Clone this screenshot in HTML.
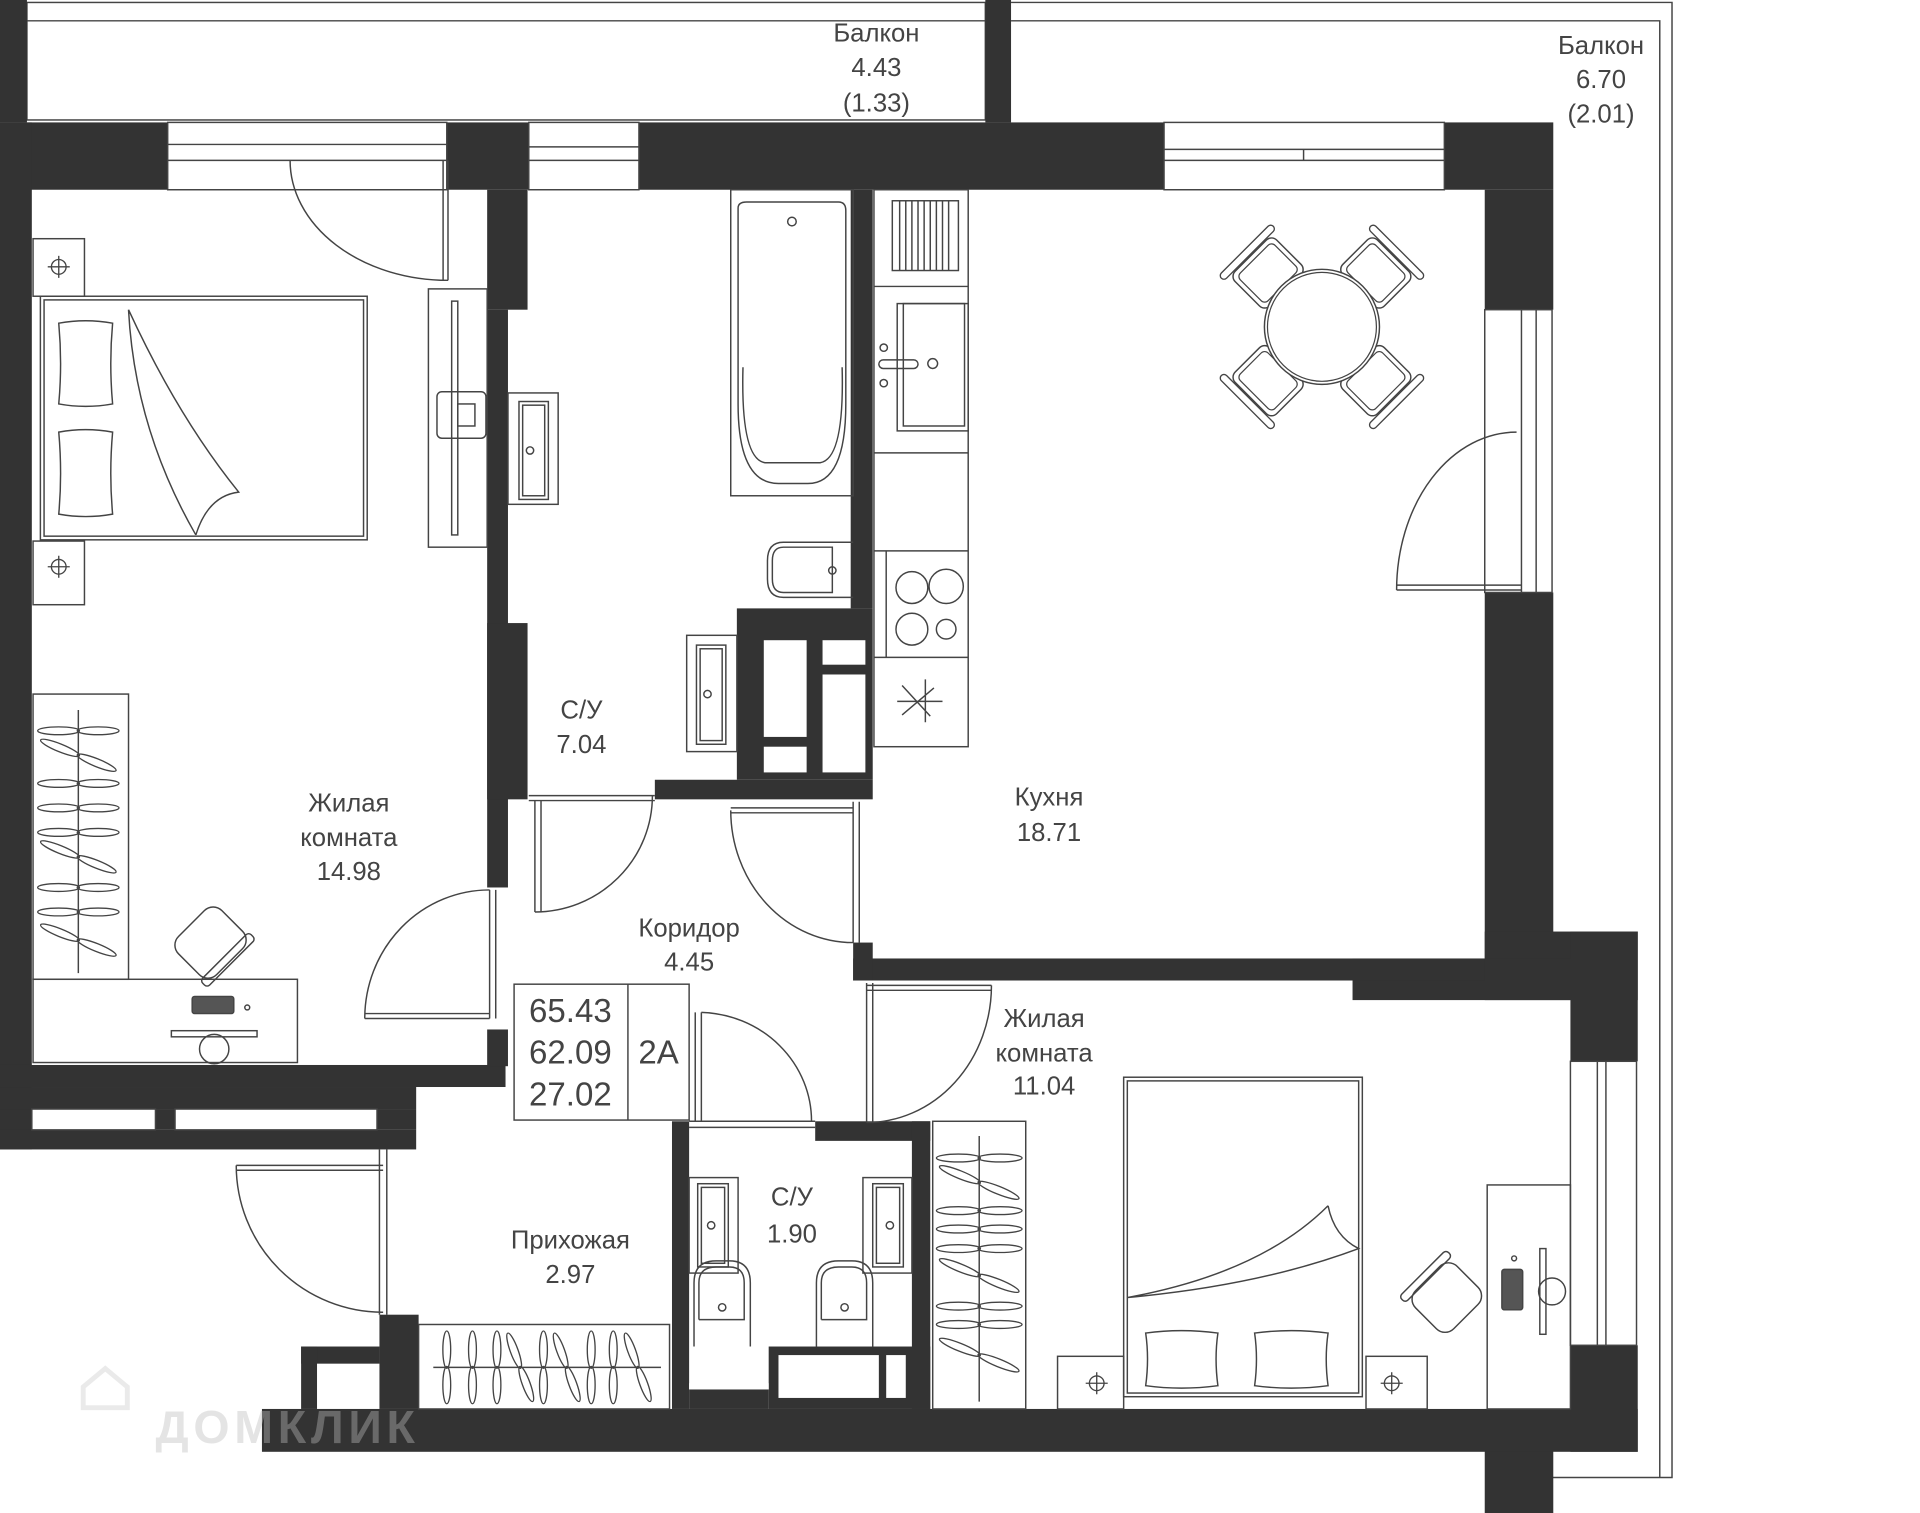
<!DOCTYPE html>
<html><head><meta charset="utf-8"><style>
html,body{margin:0;padding:0;background:#fff;}
svg{display:block;}
text{font-family:"Liberation Sans","DejaVu Sans",sans-serif;fill:#444;}
</style></head><body>
<svg width="1920" height="1513" viewBox="0 0 1568.6 1236" preserveAspectRatio="none" xmlns="http://www.w3.org/2000/svg">
<defs>
<g id="hg"><ellipse cx="-17" cy="0" rx="18" ry="3.2" fill="none" stroke="#444" stroke-width="1.1"/><ellipse cx="17" cy="0" rx="18" ry="3.2" fill="none" stroke="#444" stroke-width="1.1"/></g>
<g id="cross"><circle r="6" fill="none" stroke="#444" stroke-width="1.1"/><line x1="-9" y1="0" x2="9" y2="0" stroke="#444" stroke-width="1.1"/><line x1="0" y1="-9" x2="0" y2="9" stroke="#444" stroke-width="1.1"/></g>
<g id="chair"><rect x="-24" y="-20" width="48" height="40" rx="6" fill="#fff" stroke="#444" stroke-width="1.2"/><rect x="-20" y="-16" width="40" height="32" rx="4" fill="none" stroke="#444" stroke-width="1"/><rect x="-30" y="-27" width="60" height="6" rx="3" fill="#fff" stroke="#444" stroke-width="1.1"/></g>
</defs>
<g fill="none" stroke="#444" stroke-width="1.2">
<rect x="22" y="2" width="783" height="96"/>
<line x1="22" y1="17" x2="805" y2="17"/>
<path d="M826 2 H1366 V1207 H1268"/>
<path d="M826 17 H1356 V1207"/>
</g>
<g fill="#333">
<rect x="0" y="0" width="22" height="100"/>
<rect x="805" y="0" width="21" height="100"/>
<rect x="0" y="100" width="137" height="55"/>
<rect x="365" y="100" width="67" height="55"/>
<rect x="522" y="100" width="429" height="55"/>
<rect x="1180" y="100" width="89" height="55"/>
<rect x="1213" y="155" width="56" height="98"/>
<rect x="1213" y="484" width="56" height="300"/>
<rect x="1213" y="761" width="125" height="56"/>
<rect x="1283" y="761" width="55" height="106"/>
<rect x="1283" y="1099" width="55" height="87"/>
<rect x="1105" y="783" width="178" height="34"/>
<rect x="697" y="783" width="516" height="18"/>
<rect x="697" y="770" width="16" height="31"/>
<rect x="1213" y="1151" width="56" height="85"/>
<rect x="0" y="100" width="26" height="839"/>
<rect x="0" y="870" width="413" height="18"/>
<rect x="0" y="888" width="340" height="18"/>
<rect x="0" y="906" width="26" height="17"/>
<rect x="127" y="906" width="16" height="17"/>
<rect x="308" y="906" width="32" height="17"/>
<rect x="0" y="923" width="340" height="16"/>
<rect x="398" y="155" width="33" height="98"/>
<rect x="398" y="253" width="17" height="472"/>
<rect x="398" y="509" width="33" height="144"/>
<rect x="398" y="841" width="17" height="30"/>
<rect x="535" y="637" width="178" height="16"/>
<rect x="602" y="497" width="111" height="140"/>
<rect x="695" y="155" width="18" height="342"/>
<rect x="310" y="1074" width="32" height="77"/>
<rect x="246" y="1100" width="64" height="14"/>
<rect x="246" y="1100" width="13" height="51"/>
<rect x="214" y="1151" width="1124" height="35"/>
<rect x="549" y="916" width="14" height="235"/>
<rect x="666" y="916" width="94" height="16"/>
<rect x="745" y="916" width="15" height="235"/>
<rect x="628" y="1100" width="132" height="51"/>
<rect x="563" y="1135" width="65" height="16"/>
</g>
<g fill="#fff">
<rect x="624" y="523" width="35" height="79"/>
<rect x="672" y="523" width="35" height="20"/>
<rect x="672" y="551" width="35" height="80"/>
<rect x="624" y="610" width="35" height="21"/>
<rect x="636" y="1107" width="82" height="35"/>
<rect x="724" y="1107" width="16" height="35"/>
<rect x="563" y="1130" width="65" height="5"/>
</g>
<g fill="none" stroke="#444" stroke-width="1.2">
<rect x="137" y="100" width="228" height="55"/><line x1="137" y1="118" x2="365" y2="118"/><line x1="137" y1="131" x2="365" y2="131"/>
<rect x="432" y="100" width="90" height="55"/><line x1="432" y1="120" x2="522" y2="120"/><line x1="432" y1="131" x2="522" y2="131"/>
<rect x="951" y="100" width="229" height="55"/><line x1="951" y1="122" x2="1180" y2="122"/><line x1="951" y1="131" x2="1180" y2="131"/><line x1="1065" y1="122" x2="1065" y2="131"/>
<rect x="1213" y="253" width="55" height="231"/><line x1="1243" y1="253" x2="1243" y2="484"/><line x1="1255" y1="253" x2="1255" y2="484"/>
<rect x="1283" y="867" width="54" height="232"/><line x1="1305" y1="867" x2="1305" y2="1099"/><line x1="1312" y1="867" x2="1312" y2="1099"/>
<rect x="26" y="906" width="101" height="17"/><rect x="143" y="906" width="165" height="17"/>
<path d="M366 131 V229 M362 131 V229"/><path d="M237 131 A129 98 0 0 0 366 229"/>
<path d="M1141 482 H1243 M1141 478 H1243"/><path d="M1141 482 A98 129 0 0 1 1239 353"/>
<path d="M400 727 V832 M405 727 V832"/><path d="M298 832 H400 M298 828 H400"/><path d="M298 832 A102 105 0 0 1 400 727"/>
<path d="M432 650 H535 M432 654 H535"/><path d="M437 654 V745 M442 654 V745"/><path d="M437 745 A96 95 0 0 0 533 650"/>
<path d="M697 655 V770 M702 655 V770"/><path d="M597 660 H697 M597 664 H697"/><path d="M597 662 A100 108 0 0 0 697 770"/>
<path d="M708 803 V917 M713 803 V917"/><path d="M708 805 H810 M708 809 H810"/><path d="M810 805 A102 112 0 0 1 708 917"/>
<path d="M563 916 H666 M563 921 H666"/><path d="M568 827 V916 M573 827 V916"/><path d="M573 827 A93 89 0 0 1 663 916"/>
<path d="M310 939 V1074 M316 939 V1074"/><path d="M193 952 H313 M193 956 H313"/><path d="M193 952 A120 120 0 0 0 313 1072"/>
<rect x="27" y="195" width="42" height="47"/><rect x="27" y="442" width="42" height="52"/>
<rect x="33" y="242" width="267" height="199"/><rect x="36" y="245" width="261" height="193"/>
<path d="M48 264 Q70 260 92 264 Q89 297 92 330 Q70 334 48 330 Q51 297 48 264Z"/>
<path d="M48 353 Q70 349 92 353 Q89 387 92 420 Q70 424 48 420 Q51 387 48 353Z"/>
<path d="M105 253 Q110 350 160 437 M105 253 Q145 340 195 402 Q170 405 160 437"/>
<rect x="350" y="236" width="48" height="211"/><rect x="369" y="246" width="5" height="191"/><rect x="357" y="320" width="40" height="38" rx="4"/><rect x="374" y="330" width="14" height="18"/>
<rect x="27" y="567" width="78" height="233"/><line x1="64" y1="580" x2="64" y2="795"/>
<rect x="27" y="800" width="216" height="68"/>
<g transform="translate(172 770) rotate(-45)"><rect x="-25" y="-22" width="50" height="44" rx="10"/><rect x="-28" y="16" width="56" height="8" rx="3"/></g>
<rect x="157" y="814" width="34" height="14" rx="2" fill="#555"/><circle cx="202" cy="823" r="2"/>
<rect x="140" y="842" width="70" height="5"/><circle cx="175" cy="857" r="12"/>
<rect x="415" y="321" width="41" height="91"/><rect x="424" y="328" width="24" height="80"/><rect x="427" y="331" width="18" height="74"/><circle cx="433" cy="368" r="3"/>
<rect x="597" y="155" width="100" height="250"/><path d="M603 170 Q603 165 610 165 H685 Q691 165 691 172 V330 Q691 395 660 395 H636 Q603 395 603 330Z"/><path d="M607 300 Q605 375 625 378 H670 Q690 375 688 300"/><circle cx="647" cy="181" r="3.5"/>
<path d="M697 443 H640 Q627 443 627 458 V473 Q627 488 640 488 H697 M680 447 H640 Q631 447 631 458 V473 Q631 484 640 484 H680Z"/><circle cx="680" cy="466" r="3"/>
<rect x="561" y="519" width="41" height="95"/><rect x="569" y="527" width="24" height="81"/><rect x="572" y="530" width="18" height="75"/><circle cx="578" cy="567" r="3"/>
<rect x="714" y="155" width="77" height="455"/>
<line x1="714" y1="234" x2="791" y2="234"/><line x1="714" y1="370" x2="791" y2="370"/><line x1="714" y1="450" x2="791" y2="450"/><line x1="714" y1="537" x2="791" y2="537"/>
<rect x="729" y="164" width="54" height="57"/>
<path d="M735 164V221M740 164V221M745 164V221M750 164V221M755 164V221M760 164V221M765 164V221M770 164V221M775 164V221"/>
<rect x="733" y="248" width="58" height="104"/><rect x="738" y="248" width="50" height="100"/>
<circle cx="722" cy="284" r="3"/><circle cx="722" cy="313" r="3"/><rect x="718" y="294" width="32" height="7" rx="3.5"/><circle cx="762" cy="297" r="4"/>
<line x1="724" y1="450" x2="724" y2="537"/>
<circle cx="745" cy="480" r="13"/><circle cx="773" cy="479" r="14"/><circle cx="745" cy="514" r="13"/><circle cx="773" cy="514" r="8"/>
<path d="M737 560 L760 585 M737 584 L763 562 M756 555 V590 M733 573 H770"/>
</g>
<use href="#chair" transform="translate(1036 223) rotate(-45)"/>
<use href="#chair" transform="translate(1124 223) rotate(45)"/>
<use href="#chair" transform="translate(1124 311) rotate(135)"/>
<use href="#chair" transform="translate(1036 311) rotate(-135)"/>
<circle cx="1080" cy="267" r="47" fill="#fff" stroke="#444" stroke-width="1.2"/><circle cx="1080" cy="267" r="44.5" fill="none" stroke="#444" stroke-width="1"/>
<g fill="none" stroke="#444" stroke-width="1.2">
<rect x="762" y="916" width="76" height="235"/><line x1="800" y1="928" x2="800" y2="1145"/>
<rect x="918" y="880" width="195" height="261"/><rect x="921" y="883" width="189" height="255"/>
<path d="M1085 985 Q1030 1040 921 1060 Q1030 1050 1110 1020 Q1090 1010 1085 985"/>
<path d="M936 1089 Q965 1085 995 1089 Q992 1110 995 1132 Q965 1136 936 1132 Q939 1110 936 1089Z"/>
<path d="M1025 1089 Q1055 1085 1085 1089 Q1082 1110 1085 1132 Q1055 1136 1025 1132 Q1028 1110 1025 1089Z"/>
<rect x="864" y="1108" width="54" height="43"/><rect x="1116" y="1108" width="50" height="43"/>
<rect x="1215" y="968" width="68" height="183"/>
<rect x="1258" y="1020" width="5" height="70"/><circle cx="1268" cy="1055" r="11"/>
<rect x="1227" y="1037" width="17" height="33" rx="2" fill="#555"/><circle cx="1237" cy="1028" r="2"/>
<g transform="translate(1182 1060) rotate(-45)"><rect x="-24" y="-22" width="48" height="44" rx="10"/><rect x="-27" y="-28" width="54" height="7" rx="3"/></g>
<rect x="342" y="1082" width="205" height="69"/><line x1="354" y1="1117" x2="540" y2="1117"/>
<rect x="563" y="962" width="40" height="78"/><rect x="570" y="967" width="25" height="68"/><rect x="573" y="970" width="19" height="62"/><circle cx="581" cy="1001" r="3"/>
<rect x="705" y="962" width="40" height="78"/><rect x="713" y="967" width="25" height="68"/><rect x="716" y="970" width="19" height="62"/><circle cx="727" cy="1001" r="3"/>
<path d="M567 1100 V1048 Q567 1030 585 1030 H596 Q613 1030 613 1048 V1100 M571 1078 V1048 Q571 1035 585 1035 H596 Q608 1035 608 1048 V1078 H571"/><circle cx="590" cy="1068" r="3"/>
<path d="M667 1100 V1048 Q667 1030 685 1030 H696 Q713 1030 713 1048 V1100 M671 1078 V1048 Q671 1035 685 1035 H696 Q708 1035 708 1048 V1078 H671"/><circle cx="690" cy="1068" r="3"/>
<rect x="420" y="804" width="143" height="111"/><line x1="513" y1="804" x2="513" y2="915"/>
</g>
<use href="#cross" transform="translate(48 218)"/>
<use href="#cross" transform="translate(48 463)"/>
<use href="#cross" transform="translate(896 1130)"/>
<use href="#cross" transform="translate(1137 1130)"/>
<use href="#hg" transform="translate(64 597) scale(0.95 1)"/>
<use href="#hg" transform="translate(64 617) rotate(22) scale(0.95 1)"/>
<use href="#hg" transform="translate(64 640) scale(0.95 1)"/>
<use href="#hg" transform="translate(64 660) scale(0.95 1)"/>
<use href="#hg" transform="translate(64 680) scale(0.95 1)"/>
<use href="#hg" transform="translate(64 700) rotate(22) scale(0.95 1)"/>
<use href="#hg" transform="translate(64 725) scale(0.95 1)"/>
<use href="#hg" transform="translate(64 745) scale(0.95 1)"/>
<use href="#hg" transform="translate(64 768) rotate(22) scale(0.95 1)"/>
<use href="#hg" transform="translate(800 946)"/>
<use href="#hg" transform="translate(800 966) rotate(22)"/>
<use href="#hg" transform="translate(800 989)"/>
<use href="#hg" transform="translate(800 1004)"/>
<use href="#hg" transform="translate(800 1020)"/>
<use href="#hg" transform="translate(800 1042) rotate(22)"/>
<use href="#hg" transform="translate(800 1067)"/>
<use href="#hg" transform="translate(800 1082)"/>
<use href="#hg" transform="translate(800 1107) rotate(22)"/>
<use href="#hg" transform="translate(365 1117) rotate(90) scale(0.85 1)"/>
<use href="#hg" transform="translate(386 1117) rotate(90) scale(0.85 1)"/>
<use href="#hg" transform="translate(406 1117) rotate(90) scale(0.85 1)"/>
<use href="#hg" transform="translate(425 1117) rotate(70) scale(0.85 1)"/>
<use href="#hg" transform="translate(444 1117) rotate(90) scale(0.85 1)"/>
<use href="#hg" transform="translate(463 1117) rotate(70) scale(0.85 1)"/>
<use href="#hg" transform="translate(483 1117) rotate(90) scale(0.85 1)"/>
<use href="#hg" transform="translate(501 1117) rotate(90) scale(0.85 1)"/>
<use href="#hg" transform="translate(521 1117) rotate(70) scale(0.85 1)"/>
<g font-size="21" text-anchor="middle">
<text x="716" y="34">Балкон</text><text x="716" y="62">4.43</text><text x="716" y="91">(1.33)</text>
<text x="1308" y="44">Балкон</text><text x="1308" y="72">6.70</text><text x="1308" y="100">(2.01)</text>
<text x="475" y="587">С/У</text><text x="475" y="615">7.04</text>
<text x="285" y="663">Жилая</text><text x="285" y="691">комната</text><text x="285" y="719">14.98</text>
<text x="857" y="658">Кухня</text><text x="857" y="687">18.71</text>
<text x="563" y="765">Коридор</text><text x="563" y="793">4.45</text>
<text x="853" y="839">Жилая</text><text x="853" y="867">комната</text><text x="853" y="894">11.04</text>
<text x="647" y="985">С/У</text><text x="647" y="1015">1.90</text>
<text x="466" y="1020">Прихожая</text><text x="466" y="1048">2.97</text>
</g>
<g font-size="27" text-anchor="middle">
<text x="466" y="835">65.43</text><text x="466" y="869">62.09</text><text x="466" y="903">27.02</text>
<text x="538" y="869">2A</text>
</g>
<path d="M68 1150 V1133 L86 1118 L104 1133 V1150 Z" fill="none" stroke="#bbb" stroke-opacity="0.3" stroke-width="4"/>
<text x="127" y="1179" font-size="38" font-weight="bold" textLength="212" style="fill:#bbb;fill-opacity:0.4">ДОМКЛИК</text>
</svg>
</body></html>
